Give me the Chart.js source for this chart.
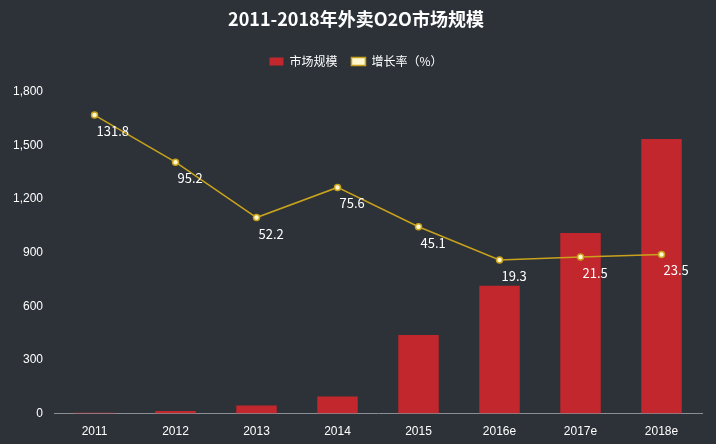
<!DOCTYPE html>
<html><head><meta charset="utf-8">
<script src="https://cdn.jsdelivr.net/npm/chart.js@4"></script>
<style>
body{margin:0;background:#2c3238;}
#wrap{width:716px;height:444px;}
</style></head><body>
<div id="wrap"><canvas id="c"></canvas></div>
<script>
// 2011-2018 外卖O2O 市场规模 + 增长率
const years = ['2011','2012','2013','2014','2015','2016e','2017e','2018e'];
const marketSize = [5, 15, 45, 95, 440, 715, 1010, 1535];
const growth = [131.8, 95.2, 52.2, 75.6, 45.1, 19.3, 21.5, 23.5];

// draw growth labels just under each line point
const pointLabels = {
  id: 'pointLabels',
  afterDatasetsDraw(chart) {
    const ctx = chart.ctx;
    const meta = chart.getDatasetMeta(1);
    ctx.save();
    ctx.fillStyle = '#ffffff';
    ctx.font = '13px "Noto Sans CJK SC", sans-serif';
    ctx.textAlign = 'left';
    ctx.textBaseline = 'middle';
    meta.data.forEach((p, i) => {
      ctx.fillText(growth[i].toFixed(1), p.x + 2, p.y + 16);
    });
    ctx.restore();
  }
};

new Chart(document.getElementById('c'), {
  data: {
    labels: years,
    datasets: [
      { type: 'bar', label: '市场规模', data: marketSize, backgroundColor: '#c1272d',
        yAxisID: 'y', barPercentage: 0.5, categoryPercentage: 1, order: 2 },
      { type: 'line', label: '增长率（%）', data: growth, borderColor: '#c9a21c', borderWidth: 1.5,
        backgroundColor: '#fff8d0',
        pointBackgroundColor: '#fff8d0', pointBorderColor: '#c9a21c', pointRadius: 3,
        yAxisID: 'y2', tension: 0, order: 1 }
    ]
  },
  options: {
    responsive: true, maintainAspectRatio: false, animation: false,
    layout: { padding: { left: 10, right: 14, bottom: 2 } },
    plugins: {
      title: { display: true, text: '2011-2018年外卖O2O市场规模', color: '#ffffff',
        font: { size: 18, weight: 'bold', family: '"Noto Sans CJK SC", sans-serif' }, padding: { top: 8, bottom: 12 } },
      legend: {
        labels: { color: '#ffffff', boxWidth: 14, boxHeight: 8, padding: 14,
          sort: (a, b) => a.datasetIndex - b.datasetIndex,
          font: { size: 12, family: '"Noto Sans CJK SC", sans-serif' } }
      },
      tooltip: { enabled: false }
    },
    scales: {
      x: { grid: { display: false }, border: { color: '#8a8f94' },
        ticks: { color: '#ffffff', font: { size: 12 } } },
      y: { min: 0, max: 1800, ticks: { stepSize: 300, color: '#ffffff', font: { size: 12 } },
        grid: { display: false }, border: { display: false } },
      y2: { display: false, min: -100, max: 150, position: 'right' }
    }
  },
  plugins: [pointLabels, {
    id: 'legendGap',
    beforeInit(chart) {
      const fit = chart.legend.fit;
      chart.legend.fit = function () { fit.call(this); this.height += 14; };
    }
  }]
});
</script></body></html>
